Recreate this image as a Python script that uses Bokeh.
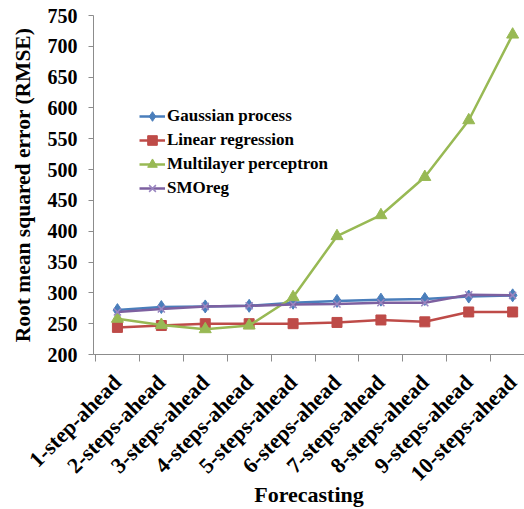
import math
from bokeh.plotting import figure
from bokeh.models import Range1d, FixedTicker
from bokeh.embed import file_html
from bokeh.resources import INLINE

categories = ["1-step-ahead", "2-steps-ahead", "3-steps-ahead", "4-steps-ahead",
              "5-steps-ahead", "6-steps-ahead", "7-steps-ahead", "8-steps-ahead",
              "9-steps-ahead", "10-steps-ahead"]
gaussian = [272, 277, 278, 279, 284, 287, 289, 290, 294, 296]
linear = [244, 247, 250, 250, 250, 252, 256, 253, 269, 269]
mlp = [258, 248, 241, 247, 293, 392, 426, 488, 580, 719]
smoreg = [269, 274, 278, 279, 281, 282, 284, 284, 297, 296]
y_ticks = list(range(200, 751, 50))

x = list(range(len(categories)))
FONT = "Liberation Serif"
AXIS_COLOR = "#8c8c8c"

p = figure(width=524, height=509, output_backend="svg", toolbar_location=None,
           x_range=Range1d(-0.545, 9.27), y_range=Range1d(200, 750),
           min_border_left=93, min_border_top=15, min_border_right=0,
           min_border_bottom=155)
p.outline_line_color = None
p.grid.visible = False
p.background_fill_color = "white"
p.border_fill_color = "white"

series = [
    ("Gaussian process", gaussian, "#4A7EBB", "diamond", 13),
    ("Linear regression", linear, "#BE4B48", "square", 10),
    ("Multilayer perceptron", mlp, "#98B954", "triangle", 12),
    ("SMOreg", smoreg, "#7D60A0", "x", 10),
]
for name, vals, col, mk, sz in series:
    p.line(x, vals, line_color=col, line_width=2.5, legend_label=name)
    if mk == "x":
        p.scatter(x, vals, marker=mk, size=sz, line_color="#9a86c0", line_width=1.5,
                  legend_label=name)
    else:
        p.scatter(x, vals, marker=mk, size=sz, fill_color=col, line_color=col,
                  legend_label=name)

# x axis
xa = p.xaxis[0]
xa.ticker = FixedTicker(ticks=x, minor_ticks=[i - 0.5 for i in range(len(categories) + 1)])
xa.major_label_overrides = {i: c for i, c in enumerate(categories)}
xa.major_label_orientation = math.pi / 4
xa.major_tick_line_color = None
xa.major_tick_out = 0
xa.major_tick_in = 0
xa.minor_tick_line_color = AXIS_COLOR
xa.minor_tick_out = 7
xa.minor_tick_in = 0
xa.axis_line_color = AXIS_COLOR
xa.major_label_text_font = FONT
xa.major_label_text_font_style = "bold"
xa.major_label_text_font_size = "22px"
xa.major_label_text_color = "black"
xa.major_label_standoff = 17
xa.axis_label = "Forecasting"
xa.axis_label_text_font = FONT
xa.axis_label_text_font_style = "bold"
xa.axis_label_text_font_size = "22px"
xa.axis_label_text_color = "black"
xa.axis_label_standoff = -16

# y axis
ya = p.yaxis[0]
ya.ticker = FixedTicker(ticks=y_ticks, minor_ticks=[])
ya.major_tick_out = 5
ya.major_tick_in = 0
ya.major_tick_line_color = AXIS_COLOR
ya.minor_tick_line_color = None
ya.axis_line_color = AXIS_COLOR
ya.major_label_text_font = FONT
ya.major_label_text_font_style = "bold"
ya.major_label_text_font_size = "20px"
ya.major_label_text_color = "black"
ya.major_label_standoff = 11
ya.axis_label = "Root mean squared error (RMSE)"
ya.axis_label_text_font = FONT
ya.axis_label_text_font_style = "bold"
ya.axis_label_text_font_size = "21.5px"
ya.axis_label_text_color = "black"
ya.axis_label_standoff = 10

lg = p.legend[0]
lg.location = (46, 154)
lg.padding = 0
lg.margin = 0
lg.spacing = 0
lg.border_line_color = None
lg.background_fill_alpha = 0
lg.label_text_font = FONT
lg.label_text_font_style = "bold"
lg.label_text_font_size = "17px"
lg.label_text_color = "black"
lg.label_height = 24
lg.glyph_height = 24
lg.glyph_width = 26
lg.label_standoff = 2

open("out.html", "w").write(file_html(p, INLINE))
